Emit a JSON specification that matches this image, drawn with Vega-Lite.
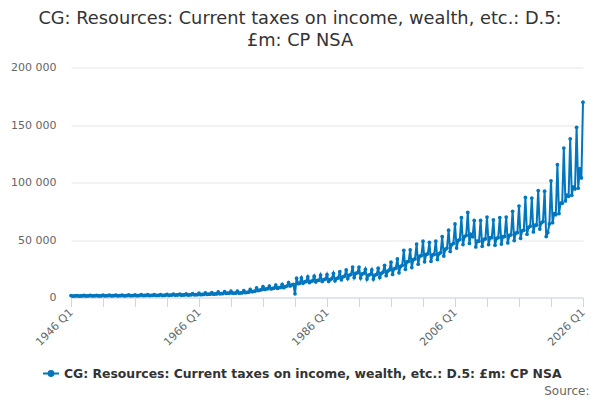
{
  "$schema": "https://vega.github.io/schema/vega-lite/v6.json",
  "width": 512,
  "height": 230,
  "autosize": {"type": "none"},
  "padding": {"left": 71, "top": 67.5, "right": 17, "bottom": 102.5},
  "background": "white",
  "config": {
    "font": "DejaVu Sans",
    "view": {"stroke": null},
    "locale": {"number": {"decimal": ".", "thousands": " ", "grouping": [3], "currency": ["£", ""]}}
  },
  "title": {
    "text": ["CG: Resources: Current taxes on income, wealth, etc.: D.5:", "£m: CP NSA"],
    "fontSize": 17.8,
    "fontWeight": "normal",
    "color": "#333333",
    "anchor": "middle",
    "dx": -27,
    "offset": 12,
    "lineHeight": 22
  },
  "data": {"values": [
{"p":"1946 Q1","v":1700},{"p":"1946 Q2","v":1300},{"p":"1946 Q3","v":1400},{"p":"1946 Q4","v":1400},
{"p":"1947 Q1","v":1700},{"p":"1947 Q2","v":1300},{"p":"1947 Q3","v":1400},{"p":"1947 Q4","v":1400},
{"p":"1948 Q1","v":1800},{"p":"1948 Q2","v":1400},{"p":"1948 Q3","v":1400},{"p":"1948 Q4","v":1500},
{"p":"1949 Q1","v":1900},{"p":"1949 Q2","v":1400},{"p":"1949 Q3","v":1500},{"p":"1949 Q4","v":1500},
{"p":"1950 Q1","v":1900},{"p":"1950 Q2","v":1400},{"p":"1950 Q3","v":1500},{"p":"1950 Q4","v":1500},
{"p":"1951 Q1","v":2000},{"p":"1951 Q2","v":1500},{"p":"1951 Q3","v":1600},{"p":"1951 Q4","v":1600},
{"p":"1952 Q1","v":2100},{"p":"1952 Q2","v":1500},{"p":"1952 Q3","v":1600},{"p":"1952 Q4","v":1600},
{"p":"1953 Q1","v":2100},{"p":"1953 Q2","v":1500},{"p":"1953 Q3","v":1600},{"p":"1953 Q4","v":1700},
{"p":"1954 Q1","v":2100},{"p":"1954 Q2","v":1500},{"p":"1954 Q3","v":1600},{"p":"1954 Q4","v":1700},
{"p":"1955 Q1","v":2200},{"p":"1955 Q2","v":1600},{"p":"1955 Q3","v":1700},{"p":"1955 Q4","v":1700},
{"p":"1956 Q1","v":2300},{"p":"1956 Q2","v":1600},{"p":"1956 Q3","v":1700},{"p":"1956 Q4","v":1800},
{"p":"1957 Q1","v":2400},{"p":"1957 Q2","v":1700},{"p":"1957 Q3","v":1800},{"p":"1957 Q4","v":1800},
{"p":"1958 Q1","v":2500},{"p":"1958 Q2","v":1700},{"p":"1958 Q3","v":1900},{"p":"1958 Q4","v":1900},
{"p":"1959 Q1","v":2500},{"p":"1959 Q2","v":1800},{"p":"1959 Q3","v":1900},{"p":"1959 Q4","v":1900},
{"p":"1960 Q1","v":2600},{"p":"1960 Q2","v":1800},{"p":"1960 Q3","v":1900},{"p":"1960 Q4","v":2000},
{"p":"1961 Q1","v":2800},{"p":"1961 Q2","v":1900},{"p":"1961 Q3","v":2100},{"p":"1961 Q4","v":2100},
{"p":"1962 Q1","v":3000},{"p":"1962 Q2","v":2000},{"p":"1962 Q3","v":2200},{"p":"1962 Q4","v":2200},
{"p":"1963 Q1","v":3000},{"p":"1963 Q2","v":2000},{"p":"1963 Q3","v":2200},{"p":"1963 Q4","v":2200},
{"p":"1964 Q1","v":3100},{"p":"1964 Q2","v":2100},{"p":"1964 Q3","v":2300},{"p":"1964 Q4","v":2300},
{"p":"1965 Q1","v":3400},{"p":"1965 Q2","v":2300},{"p":"1965 Q3","v":2500},{"p":"1965 Q4","v":2500},
{"p":"1966 Q1","v":3700},{"p":"1966 Q2","v":2500},{"p":"1966 Q3","v":2700},{"p":"1966 Q4","v":2700},
{"p":"1967 Q1","v":4000},{"p":"1967 Q2","v":2700},{"p":"1967 Q3","v":2900},{"p":"1967 Q4","v":2900},
{"p":"1968 Q1","v":4300},{"p":"1968 Q2","v":2900},{"p":"1968 Q3","v":3100},{"p":"1968 Q4","v":3100},
{"p":"1969 Q1","v":4800},{"p":"1969 Q2","v":3200},{"p":"1969 Q3","v":3400},{"p":"1969 Q4","v":3400},
{"p":"1970 Q1","v":5200},{"p":"1970 Q2","v":3500},{"p":"1970 Q3","v":3700},{"p":"1970 Q4","v":3700},
{"p":"1971 Q1","v":5500},{"p":"1971 Q2","v":3700},{"p":"1971 Q3","v":3900},{"p":"1971 Q4","v":3900},
{"p":"1972 Q1","v":5600},{"p":"1972 Q2","v":3800},{"p":"1972 Q3","v":4000},{"p":"1972 Q4","v":4100},
{"p":"1973 Q1","v":6000},{"p":"1973 Q2","v":4200},{"p":"1973 Q3","v":4500},{"p":"1973 Q4","v":4600},
{"p":"1974 Q1","v":7000},{"p":"1974 Q2","v":5000},{"p":"1974 Q3","v":5300},{"p":"1974 Q4","v":5500},
{"p":"1975 Q1","v":8300},{"p":"1975 Q2","v":6000},{"p":"1975 Q3","v":6500},{"p":"1975 Q4","v":6800},
{"p":"1976 Q1","v":9500},{"p":"1976 Q2","v":7000},{"p":"1976 Q3","v":7400},{"p":"1976 Q4","v":7700},
{"p":"1977 Q1","v":10000},{"p":"1977 Q2","v":7500},{"p":"1977 Q3","v":7900},{"p":"1977 Q4","v":8200},
{"p":"1978 Q1","v":10800},{"p":"1978 Q2","v":8000},{"p":"1978 Q3","v":8500},{"p":"1978 Q4","v":8800},
{"p":"1979 Q1","v":11500},{"p":"1979 Q2","v":8500},{"p":"1979 Q3","v":9500},{"p":"1979 Q4","v":10000},
{"p":"1980 Q1","v":13000},{"p":"1980 Q2","v":10000},{"p":"1980 Q3","v":11000},{"p":"1980 Q4","v":11500},
{"p":"1981 Q1","v":3200},{"p":"1981 Q2","v":16800},{"p":"1981 Q3","v":12000},{"p":"1981 Q4","v":12500},
{"p":"1982 Q1","v":17000},{"p":"1982 Q2","v":12500},{"p":"1982 Q3","v":13500},{"p":"1982 Q4","v":14000},
{"p":"1983 Q1","v":18000},{"p":"1983 Q2","v":13000},{"p":"1983 Q3","v":14000},{"p":"1983 Q4","v":14500},
{"p":"1984 Q1","v":18500},{"p":"1984 Q2","v":13500},{"p":"1984 Q3","v":15000},{"p":"1984 Q4","v":15000},
{"p":"1985 Q1","v":19500},{"p":"1985 Q2","v":14000},{"p":"1985 Q3","v":15500},{"p":"1985 Q4","v":16000},
{"p":"1986 Q1","v":20000},{"p":"1986 Q2","v":14000},{"p":"1986 Q3","v":15500},{"p":"1986 Q4","v":16500},
{"p":"1987 Q1","v":21000},{"p":"1987 Q2","v":14500},{"p":"1987 Q3","v":16500},{"p":"1987 Q4","v":17000},
{"p":"1988 Q1","v":22500},{"p":"1988 Q2","v":15500},{"p":"1988 Q3","v":18000},{"p":"1988 Q4","v":18500},
{"p":"1989 Q1","v":24000},{"p":"1989 Q2","v":16500},{"p":"1989 Q3","v":19500},{"p":"1989 Q4","v":20000},
{"p":"1990 Q1","v":26500},{"p":"1990 Q2","v":17500},{"p":"1990 Q3","v":21000},{"p":"1990 Q4","v":21500},
{"p":"1991 Q1","v":26500},{"p":"1991 Q2","v":17000},{"p":"1991 Q3","v":20500},{"p":"1991 Q4","v":21000},
{"p":"1992 Q1","v":24500},{"p":"1992 Q2","v":16000},{"p":"1992 Q3","v":19500},{"p":"1992 Q4","v":20000},
{"p":"1993 Q1","v":24000},{"p":"1993 Q2","v":16000},{"p":"1993 Q3","v":19500},{"p":"1993 Q4","v":20000},
{"p":"1994 Q1","v":25500},{"p":"1994 Q2","v":17500},{"p":"1994 Q3","v":21000},{"p":"1994 Q4","v":22000},
{"p":"1995 Q1","v":28000},{"p":"1995 Q2","v":19000},{"p":"1995 Q3","v":23000},{"p":"1995 Q4","v":24000},
{"p":"1996 Q1","v":30700},{"p":"1996 Q2","v":20000},{"p":"1996 Q3","v":25000},{"p":"1996 Q4","v":25500},
{"p":"1997 Q1","v":33500},{"p":"1997 Q2","v":21500},{"p":"1997 Q3","v":27000},{"p":"1997 Q4","v":28000},
{"p":"1998 Q1","v":41000},{"p":"1998 Q2","v":24500},{"p":"1998 Q3","v":31000},{"p":"1998 Q4","v":31500},
{"p":"1999 Q1","v":41500},{"p":"1999 Q2","v":26000},{"p":"1999 Q3","v":33000},{"p":"1999 Q4","v":33500},
{"p":"2000 Q1","v":46500},{"p":"2000 Q2","v":29000},{"p":"2000 Q3","v":36000},{"p":"2000 Q4","v":36500},
{"p":"2001 Q1","v":49000},{"p":"2001 Q2","v":31000},{"p":"2001 Q3","v":37500},{"p":"2001 Q4","v":38000},
{"p":"2002 Q1","v":48000},{"p":"2002 Q2","v":31500},{"p":"2002 Q3","v":37000},{"p":"2002 Q4","v":37500},
{"p":"2003 Q1","v":49000},{"p":"2003 Q2","v":33000},{"p":"2003 Q3","v":38000},{"p":"2003 Q4","v":39000},
{"p":"2004 Q1","v":53000},{"p":"2004 Q2","v":36000},{"p":"2004 Q3","v":42000},{"p":"2004 Q4","v":43000},
{"p":"2005 Q1","v":58500},{"p":"2005 Q2","v":40000},{"p":"2005 Q3","v":46000},{"p":"2005 Q4","v":47000},
{"p":"2006 Q1","v":64000},{"p":"2006 Q2","v":43000},{"p":"2006 Q3","v":49500},{"p":"2006 Q4","v":50500},
{"p":"2007 Q1","v":69500},{"p":"2007 Q2","v":46000},{"p":"2007 Q3","v":53000},{"p":"2007 Q4","v":54000},
{"p":"2008 Q1","v":74000},{"p":"2008 Q2","v":47000},{"p":"2008 Q3","v":55000},{"p":"2008 Q4","v":53000},
{"p":"2009 Q1","v":67000},{"p":"2009 Q2","v":44000},{"p":"2009 Q3","v":49000},{"p":"2009 Q4","v":49000},
{"p":"2010 Q1","v":67000},{"p":"2010 Q2","v":44500},{"p":"2010 Q3","v":50500},{"p":"2010 Q4","v":51000},
{"p":"2011 Q1","v":70000},{"p":"2011 Q2","v":46000},{"p":"2011 Q3","v":52000},{"p":"2011 Q4","v":52000},
{"p":"2012 Q1","v":67500},{"p":"2012 Q2","v":45500},{"p":"2012 Q3","v":51500},{"p":"2012 Q4","v":52000},
{"p":"2013 Q1","v":69500},{"p":"2013 Q2","v":46500},{"p":"2013 Q3","v":53000},{"p":"2013 Q4","v":53000},
{"p":"2014 Q1","v":70000},{"p":"2014 Q2","v":47500},{"p":"2014 Q3","v":54000},{"p":"2014 Q4","v":54500},
{"p":"2015 Q1","v":75000},{"p":"2015 Q2","v":49500},{"p":"2015 Q3","v":56000},{"p":"2015 Q4","v":56500},
{"p":"2016 Q1","v":79500},{"p":"2016 Q2","v":51500},{"p":"2016 Q3","v":58000},{"p":"2016 Q4","v":58500},
{"p":"2017 Q1","v":87000},{"p":"2017 Q2","v":55000},{"p":"2017 Q3","v":61000},{"p":"2017 Q4","v":62000},
{"p":"2018 Q1","v":86500},{"p":"2018 Q2","v":57000},{"p":"2018 Q3","v":63000},{"p":"2018 Q4","v":63000},
{"p":"2019 Q1","v":93000},{"p":"2019 Q2","v":59500},{"p":"2019 Q3","v":65000},{"p":"2019 Q4","v":66000},
{"p":"2020 Q1","v":92500},{"p":"2020 Q2","v":53000},{"p":"2020 Q3","v":56500},{"p":"2020 Q4","v":64000},
{"p":"2021 Q1","v":101500},{"p":"2021 Q2","v":65000},{"p":"2021 Q3","v":73000},{"p":"2021 Q4","v":72000},
{"p":"2022 Q1","v":115500},{"p":"2022 Q2","v":73000},{"p":"2022 Q3","v":82000},{"p":"2022 Q4","v":82000},
{"p":"2023 Q1","v":130000},{"p":"2023 Q2","v":84000},{"p":"2023 Q3","v":89000},{"p":"2023 Q4","v":88000},
{"p":"2024 Q1","v":138000},{"p":"2024 Q2","v":89000},{"p":"2024 Q3","v":96000},{"p":"2024 Q4","v":94500},
{"p":"2025 Q1","v":148000},{"p":"2025 Q2","v":95000},{"p":"2025 Q3","v":112000},{"p":"2025 Q4","v":104000},
{"p":"2026 Q1","v":169800}
  ]},
  "mark": {"type": "line", "strokeWidth": 2, "point": {"filled": true, "size": 14}},
  "encoding": {
    "x": {
      "field": "p",
      "type": "ordinal",
      "sort": null,
      "scale": {"type": "point", "padding": 0},
      "axis": {
        "values": ["1946 Q1","1951 Q1","1956 Q1","1961 Q1","1966 Q1","1971 Q1","1976 Q1","1981 Q1","1986 Q1","1991 Q1","1996 Q1","2001 Q1","2006 Q1","2011 Q1","2016 Q1","2021 Q1","2026 Q1"],
        "labelExpr": "indexof(['1946 Q1','1966 Q1','1986 Q1','2006 Q1','2026 Q1'], datum.value) >= 0 ? datum.value : ''",
        "labelAngle": -45,
        "labelAlign": "right",
        "labelBaseline": "middle",
        "labelFontSize": 11,
        "labelColor": "#666666",
        "labelPadding": 4,
        "labelOverlap": false,
        "domainColor": "#ccd6eb",
        "tickColor": "#ccd6eb",
        "tickSize": 9,
        "grid": false,
        "title": "Source:",
        "titleFontSize": 12,
        "titleFontWeight": "normal",
        "titleColor": "#666666",
        "titleAnchor": null,
        "titleAlign": "right",
        "titleBaseline": "alphabetic",
        "titleX": 518,
        "titleY": 97
      }
    },
    "y": {
      "field": "v",
      "type": "quantitative",
      "scale": {"domain": [0, 200000]},
      "axis": {
        "values": [0, 50000, 100000, 150000, 200000],
        "format": ",.0f",
        "title": null,
        "domain": false,
        "ticks": false,
        "labelPadding": 15,
        "labelFontSize": 11,
        "labelColor": "#666666",
        "gridColor": "#e6e6e6"
      }
    },
    "color": {
      "datum": "CG: Resources: Current taxes on income, wealth, etc.: D.5: £m: CP NSA",
      "type": "nominal",
      "scale": {"range": ["#0076be"]},
      "legend": {
        "title": null,
        "orient": "none",
        "legendX": -29,
        "legendY": 297,
        "symbolType": "M-1,0L1,0M-0.3,0A0.3,0.3,0,1,1,0.3,0A0.3,0.3,0,1,1,-0.3,0Z",
        "symbolSize": 256,
        "symbolStrokeWidth": 2,
        "symbolFillColor": "#0076be",
        "symbolStrokeColor": "#0076be",
        "labelFontSize": 12.4,
        "labelFontWeight": "bold",
        "labelColor": "#333333",
        "labelLimit": 0
      }
    }
  }
}
